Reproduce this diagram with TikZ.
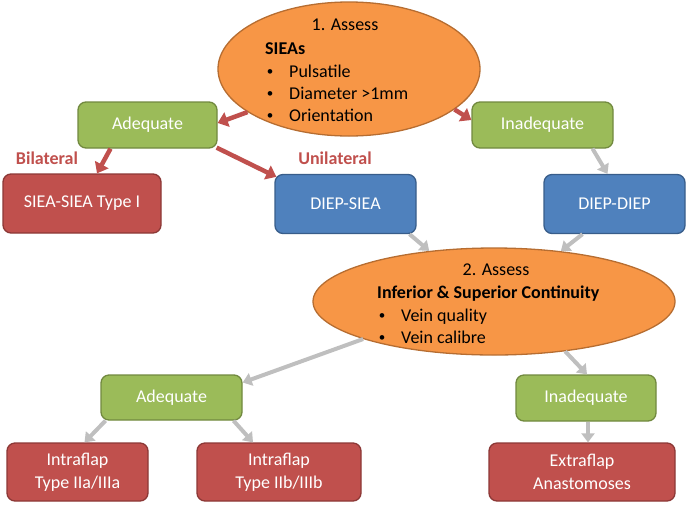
\documentclass[tikz,border=0pt]{standalone}
\usepackage{fontspec}
\setmainfont{Carlito}
\usetikzlibrary{shapes.geometric,arrows.meta}
\definecolor{orfill}{HTML}{F79646}
\definecolor{ordraw}{HTML}{B66D31}
\definecolor{grfill}{HTML}{9BBB59}
\definecolor{grdraw}{HTML}{71893F}
\definecolor{rdfill}{HTML}{C0504D}
\definecolor{rddraw}{HTML}{8C3836}
\definecolor{blfill}{HTML}{4F81BD}
\definecolor{bldraw}{HTML}{385D8A}
\definecolor{arrred}{HTML}{C0504D}
\definecolor{arrgrey}{HTML}{BFBFBF}
\tikzset{
  box/.style={rounded corners=8pt, line width=1.3pt, text=white, align=center,
    font=\fontsize{18}{22.5}\selectfont, inner sep=0pt},
  greenbox/.style={box, fill=grfill, draw=grdraw},
  redbox/.style={box, fill=rdfill, draw=rddraw},
  bluebox/.style={box, fill=blfill, draw=bldraw},
  assess/.style={ellipse, fill=orfill, draw=ordraw, line width=1.3pt, inner sep=0pt},
  etext/.style={inner sep=0pt, font=\fontsize{18}{22.5}\selectfont},
  bul/.style={inner sep=0pt, font=\fontsize{13}{15}\selectfont},
  lbl/.style={inner sep=0pt, font=\fontsize{18}{22.5}\selectfont\bfseries, text=arrred},
  redarrow/.style={draw=arrred, line width=4.5pt, -{Triangle[length=10pt,width=15pt]}},
  greyarrow/.style={draw=arrgrey, line width=4pt, -{Triangle[length=9pt,width=13pt]}}
}
\begin{document}
\begin{tikzpicture}[x=1pt,y=-1pt]
\useasboundingbox (0,0) rectangle (687,504);
% ellipses
\node[assess, minimum width=262pt, minimum height=134pt] (e1) at (349,69) {};
\node[assess, minimum width=362pt, minimum height=107pt] (e2) at (494,301.5) {};
% ellipse 1 text
\node[etext, anchor=base] (e1t) at (345,30) {1. Assess};
\node[etext, anchor=base west] (e1h) at (265,54) {\bfseries SIEAs};
\node[bul] (e1b1) at (270,72.5) {•};
\node[bul] (e1b2) at (270,94.5) {•};
\node[bul] (e1b3) at (270,116.5) {•};
\node[etext, anchor=base west] (e1l1) at (289,77) {Pulsatile};
\node[etext, anchor=base west] (e1l2) at (289,99) {Diameter >1mm};
\node[etext, anchor=base west] (e1l3) at (289,121) {Orientation};
% ellipse 2 text
\node[etext, anchor=base] (e2t) at (496,275) {2. Assess};
\node[etext, anchor=base west] (e2h) at (377,298) {\bfseries Inferior \& Superior Continuity};
\node[bul] (e2b1) at (382,316.5) {•};
\node[bul] (e2b2) at (382,338.5) {•};
\node[etext, anchor=base west] (e2l1) at (401,321) {Vein quality};
\node[etext, anchor=base west] (e2l2) at (401,343) {Vein calibre};
% boxes
\node[greenbox, minimum width=139pt, minimum height=46pt] (adq1) at (147.5,125) {Adequate};
\node[greenbox, minimum width=141pt, minimum height=46pt] (inad1) at (542.5,125) {Inadequate};
\node[redbox, minimum width=158pt, minimum height=59pt] (siea) at (82,203.5) {SIEA-SIEA Type I};
\node[bluebox, minimum width=141pt, minimum height=59pt] (dsiea) at (345.5,204) {DIEP-SIEA};
\node[bluebox, minimum width=141pt, minimum height=59pt] (ddiep) at (614.5,204) {DIEP-DIEP};
\node[greenbox, minimum width=141pt, minimum height=45pt] (adq2) at (171.5,397.5) {Adequate};
\node[greenbox, minimum width=140pt, minimum height=46pt] (inad2) at (586,398) {Inadequate};
\node[redbox, minimum width=141pt, minimum height=58pt] (intra1) at (77.5,472) {Intraflap\\Type IIa/IIIa};
\node[redbox, minimum width=164pt, minimum height=58pt] (intra2) at (279,472) {Intraflap\\Type IIb/IIIb};
\node[redbox, minimum width=186pt, minimum height=58pt] (extra) at (582,472) {Extraflap\\Anastomoses};
% labels
\node[lbl] (bil) at (47,158) {Bilateral};
\node[lbl] (uni) at (335,158) {Unilateral};
% red arrows
\draw[redarrow] (e1.203) -- ([yshift=2pt]adq1.east);
\draw[redarrow] (e1.339) -- ([yshift=5pt]inad1.west);
\draw[redarrow] ([xshift=-37pt]adq1.south) -- ([xshift=15pt]siea.north);
\draw[redarrow] ([xshift=-1pt,yshift=1pt]adq1.south east) -- ([xshift=2pt,yshift=-3pt]dsiea.north west);
% grey arrows
\draw[greyarrow] ([xshift=50pt]inad1.south) -- ([xshift=-7pt]ddiep.north);
\draw[greyarrow] ([xshift=64pt]dsiea.south) -- (e2.142);
\draw[greyarrow] ([xshift=-32pt]ddiep.south) -- (e2.37);
\draw[greyarrow] (e2.196) -- ([yshift=15pt]adq2.east);
\draw[greyarrow] (e2.325) -- ([xshift=1pt]inad2.north);
\draw[greyarrow] ([xshift=-66pt]adq2.south) -- ([xshift=7pt]intra1.north);
\draw[greyarrow] ([xshift=62pt]adq2.south) -- ([xshift=-26pt]intra2.north);
\draw[greyarrow] ([xshift=2pt]inad2.south) -- ([xshift=6pt]extra.north);
\end{tikzpicture}
\end{document}
